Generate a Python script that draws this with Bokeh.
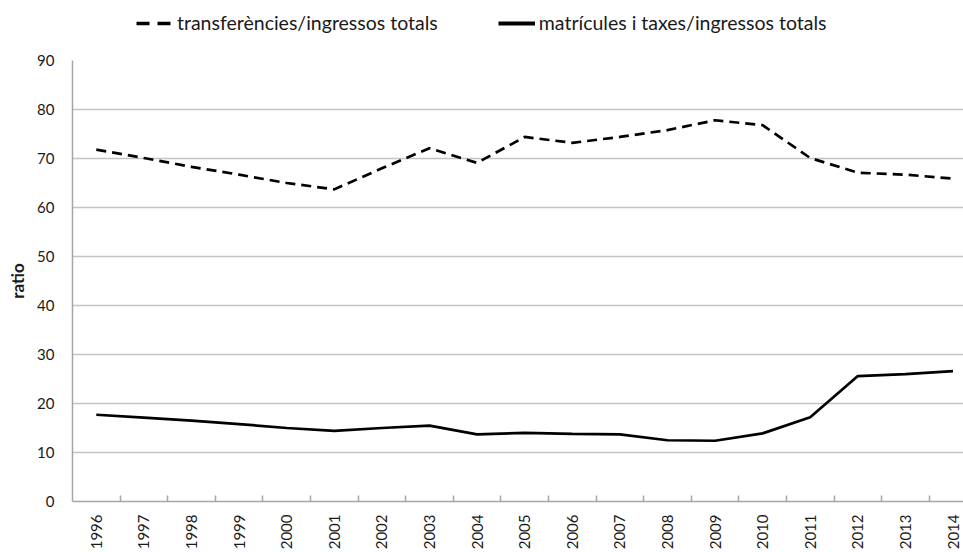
import math
from bokeh.plotting import figure
from bokeh.layouts import column
from bokeh.models import Range1d, FixedTicker, Legend, LegendItem
from bokeh.embed import file_html
from bokeh.resources import INLINE

years = list(range(1996, 2015))
transfers = [71.8, 70.1, 68.3, 66.7, 65.0, 63.7, 68.0, 72.1, 69.1, 74.4, 73.2, 74.4,
             75.8, 77.8, 76.8, 70.1, 67.1, 66.7, 65.9]
fees = [17.7, 17.1, 16.5, 15.8, 15.0, 14.4, 15.0, 15.5, 13.7, 14.0, 13.8, 13.7,
        12.5, 12.4, 13.9, 17.2, 25.6, 26.0, 26.6]
y_ticks = list(range(0, 100, 10))
labels = ["transferències/ingressos totals", "matrícules i taxes/ingressos totals"]

FONT = "Lato"
TXT = "#1a1a1a"

p = figure(width=963, height=508, output_backend="svg", toolbar_location=None,
           x_range=Range1d(1995.5, 2014.22), y_range=Range1d(0, 90),
           min_border_left=72, min_border_right=0, min_border_top=16, min_border_bottom=49)
p.outline_line_color = None
p.background_fill_color = "white"

p.line(years, transfers, line_color="black", line_width=2.7, line_dash="10 6")
p.line(years, fees, line_color="black", line_width=2.7)

p.xaxis.ticker = FixedTicker(ticks=years, minor_ticks=[y + 0.5 for y in years[:-1]])
p.xaxis.major_label_orientation = math.pi / 2
p.xaxis.major_tick_line_color = None
p.xaxis.major_tick_out = 0
p.xaxis.major_tick_in = 0
p.xaxis.minor_tick_out = 0
p.xaxis.minor_tick_in = 6
p.xaxis.minor_tick_line_color = "#a6a6a6"
p.xaxis.minor_tick_line_width = 1.5
p.xaxis.major_label_standoff = 13
p.xaxis.axis_line_color = "#a6a6a6"
p.xaxis.axis_line_width = 1.5
p.xaxis.major_label_text_font = FONT
p.xaxis.major_label_text_font_size = "15px"
p.xaxis.major_label_text_color = TXT

p.yaxis.ticker = FixedTicker(ticks=y_ticks)
p.yaxis.major_tick_line_color = None
p.yaxis.minor_tick_line_color = None
p.yaxis.major_tick_out = 0
p.yaxis.major_label_standoff = 18
p.yaxis.axis_line_color = "#a6a6a6"
p.yaxis.axis_line_width = 1.5
p.yaxis.major_label_text_font = FONT
p.yaxis.major_label_text_font_size = "15px"
p.yaxis.major_label_text_color = TXT
p.yaxis.axis_label = "ratio"
p.yaxis.axis_label_text_font = FONT
p.yaxis.axis_label_text_font_style = "bold"
p.yaxis.axis_label_text_font_size = "17px"
p.yaxis.axis_label_text_color = TXT
p.yaxis.axis_label_standoff = 6

p.xgrid.grid_line_color = None
p.ygrid.grid_line_color = "#c4c4c4"
p.ygrid.grid_line_width = 1.5

# header strip holding the legend (series drawn there fall outside its view)
h = figure(width=963, height=44, output_backend="svg", toolbar_location=None,
           x_range=Range1d(0, 1), y_range=Range1d(0, 1),
           x_axis_type=None, y_axis_type=None,
           min_border_left=0, min_border_right=0, min_border_top=0, min_border_bottom=0)
h.outline_line_color = None
h.xgrid.grid_line_color = None
h.ygrid.grid_line_color = None
l1 = h.line(years, transfers, line_color="black", line_width=3.6, line_dash="13 8")
l2 = h.line(years, fees, line_color="black", line_width=3.8)

legend = Legend(items=[LegendItem(label=labels[0], renderers=[l1]),
                       LegendItem(label=labels[1], renderers=[l2])],
                orientation="horizontal", location=(64, 10),
                glyph_width=37, glyph_height=22, label_height=22,
                label_standoff=4, spacing=60,
                label_text_font=FONT, label_text_font_size="19.5px",
                label_text_color=TXT, border_line_color=None,
                background_fill_alpha=0, padding=0, margin=0)
h.add_layout(legend, "center")

layout = column(h, p, spacing=0)
open("out.html", "w").write(file_html(layout, INLINE))
